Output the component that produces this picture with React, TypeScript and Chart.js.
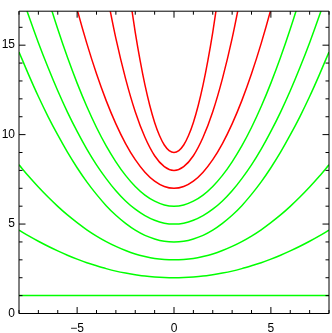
import { useEffect, useRef } from 'react';
import { Chart, registerables } from 'chart.js';

Chart.register(...registerables);

// Axis ranges and tick values
const X_MIN = -8;
const X_MAX = 8;
const Y_MIN = 0;
const Y_MAX = 16.9;
const X_MAJOR_STEP = 5;
const Y_MAJOR_STEP = 5;
const X_MINOR = [-8, -7, -6, -5, -4, -3, -2, -1, 0, 1, 2, 3, 4, 5, 6, 7, 8];
const Y_MINOR = [0, 1, 2, 3, 4, 5, 6, 7, 8, 9, 10, 11, 12, 13, 14, 15, 16];

// Sample positions
const xFull = [-8, -7.5, -7, -6.5, -6, -5.5, -5, -4.5, -4, -3.5, -3, -2.5, -2, -1.5, -1, -0.5, 0, 0.5, 1, 1.5, 2, 2.5, 3, 3.5, 4, 4.5, 5, 5.5, 6, 6.5, 7, 7.5, 8];
const xLevel1 = [-8, 8];
const xLevel6 = [-7, -6.5, -6, -5.5, -5, -4.5, -4, -3.5, -3, -2.5, -2, -1.5, -1, -0.5, 0, 0.5, 1, 1.5, 2, 2.5, 3, 3.5, 4, 4.5, 5, 5.5, 6, 6.5, 7];
const xLevel7 = [-5.5, -5, -4.5, -4, -3.5, -3, -2.5, -2, -1.5, -1, -0.5, 0, 0.5, 1, 1.5, 2, 2.5, 3, 3.5, 4, 4.5, 5, 5.5];
const xLevel8 = [-3.5, -3, -2.5, -2, -1.5, -1, -0.5, 0, 0.5, 1, 1.5, 2, 2.5, 3, 3.5];
const xLevel9 = [-2.5, -2.25, -2, -1.75, -1.5, -1.25, -1, -0.75, -0.5, -0.25, 0, 0.25, 0.5, 0.75, 1, 1.25, 1.5, 1.75, 2, 2.25, 2.5];

// Curve values (green levels 1-6, red levels 7-9)
const level1 = [1, 1];
const level2 = [4.66, 4.34, 4.04, 3.76, 3.5, 3.26, 3.04, 2.84, 2.67, 2.51, 2.37, 2.26, 2.17, 2.09, 2.04, 2.01, 2, 2.01, 2.04, 2.09, 2.17, 2.26, 2.37, 2.51, 2.67, 2.84, 3.04, 3.26, 3.5, 3.76, 4.04, 4.34, 4.66];
const level3 = [8.31, 7.67, 7.07, 6.51, 5.99, 5.51, 5.08, 4.68, 4.33, 4.02, 3.75, 3.52, 3.33, 3.19, 3.08, 3.02, 3, 3.02, 3.08, 3.19, 3.33, 3.52, 3.75, 4.02, 4.33, 4.68, 5.08, 5.51, 5.99, 6.51, 7.07, 7.67, 8.31];
const level4 = [14.62, 13.34, 12.13, 11.01, 9.98, 9.02, 8.15, 7.36, 6.66, 6.03, 5.49, 5.04, 4.66, 4.37, 4.17, 4.04, 4, 4.04, 4.17, 4.37, 4.66, 5.04, 5.49, 6.03, 6.66, 7.36, 8.15, 9.02, 9.98, 11.01, 12.13, 13.34, 14.62];
const level5 = [18.25, 16.64, 15.14, 13.75, 12.45, 11.26, 10.18, 9.19, 8.31, 7.54, 6.86, 6.29, 5.83, 5.47, 5.21, 5.05, 5, 5.05, 5.21, 5.47, 5.83, 6.29, 6.86, 7.54, 8.31, 9.19, 10.18, 11.26, 12.45, 13.75, 15.14, 16.64, 18.25];
const level6 = [19.48, 17.62, 15.9, 14.32, 12.88, 11.57, 10.4, 9.37, 8.48, 7.72, 7.1, 6.62, 6.28, 6.07, 6, 6.07, 6.28, 6.62, 7.1, 7.72, 8.48, 9.37, 10.4, 11.57, 12.88, 14.32, 15.9, 17.62, 19.48];
const level7 = [19.1, 17.0, 15.1, 13.4, 11.9, 10.6, 9.5, 8.6, 7.9, 7.4, 7.1, 7, 7.1, 7.4, 7.9, 8.6, 9.5, 10.6, 11.9, 13.4, 15.1, 17.0, 19.1];
const level8 = [18.05, 15.38, 13.13, 11.28, 9.85, 8.82, 8.21, 8, 8.21, 8.82, 9.85, 11.28, 13.13, 15.38, 18.05];
const level9 = [19.5, 17.51, 15.72, 14.15, 12.78, 11.63, 10.68, 9.95, 9.42, 9.11, 9, 9.11, 9.42, 9.95, 10.68, 11.63, 12.78, 14.15, 15.72, 17.51, 19.5];

const GREEN = '#00ff00';
const RED = '#ff0000';

const seriesDefs: { xs: number[]; ys: number[]; color: string }[] = [
  { xs: xLevel1, ys: level1, color: GREEN },
  { xs: xFull, ys: level2, color: GREEN },
  { xs: xFull, ys: level3, color: GREEN },
  { xs: xFull, ys: level4, color: GREEN },
  { xs: xFull, ys: level5, color: GREEN },
  { xs: xLevel6, ys: level6, color: GREEN },
  { xs: xLevel7, ys: level7, color: RED },
  { xs: xLevel8, ys: level8, color: RED },
  { xs: xLevel9, ys: level9, color: RED },
];

const FONT = { family: '"Liberation Sans", Arial, Helvetica, sans-serif', size: 12 };

const fmt = (v: number) => (v < 0 ? '\u2212' + Math.abs(v) : String(v));

const framePlugin = {
  id: 'idlFrame',
  afterDraw(chart: any) {
    const { ctx, chartArea, scales } = chart;
    const { left, right, top, bottom } = chartArea;
    ctx.save();
    ctx.strokeStyle = '#000000';
    ctx.lineWidth = 1;
    ctx.beginPath();
    ctx.rect(left, top, right - left, bottom - top);
    ctx.stroke();
    ctx.beginPath();
    for (const v of X_MINOR) {
      const px = scales.x.getPixelForValue(v);
      const len = v % X_MAJOR_STEP === 0 ? 6.5 : 3.5;
      ctx.moveTo(px, bottom);
      ctx.lineTo(px, bottom - len);
      ctx.moveTo(px, top);
      ctx.lineTo(px, top + len);
    }
    for (const v of Y_MINOR) {
      const py = scales.y.getPixelForValue(v);
      const len = v % Y_MAJOR_STEP === 0 ? 6.5 : 3.5;
      ctx.moveTo(left, py);
      ctx.lineTo(left + len, py);
      ctx.moveTo(right, py);
      ctx.lineTo(right - len, py);
    }
    ctx.stroke();
    ctx.restore();
  },
};

export default function App() {
  const ref = useRef<HTMLCanvasElement | null>(null);

  useEffect(() => {
    if (!ref.current) return;
    const datasets = seriesDefs.map((s) => ({
      data: s.xs.map((x, i) => ({ x, y: s.ys[i] })),
      borderColor: s.color,
      backgroundColor: s.color,
      borderWidth: 1.5,
      pointRadius: 0,
      cubicInterpolationMode: 'monotone' as const,
      fill: false,
    }));
    const chart = new Chart(ref.current, {
      type: 'line',
      data: { datasets },
      plugins: [framePlugin],
      options: {
        animation: false,
        responsive: false,
        devicePixelRatio: 1,
        layout: { padding: { top: 4, right: 3, left: 0, bottom: 0 } },
        plugins: { legend: { display: false }, tooltip: { enabled: false } },
        scales: {
          x: {
            type: 'linear',
            min: X_MIN,
            max: X_MAX,
            grid: { display: false, drawTicks: false },
            border: { display: false },
            ticks: {
              stepSize: X_MAJOR_STEP,
              includeBounds: false,
              color: '#000',
              font: FONT,
              padding: 8,
              maxRotation: 0,
              callback: (v: any) => fmt(Number(v)),
            },
            afterFit: (s: any) => {
              s.height = 19.5;
            },
          },
          y: {
            type: 'linear',
            min: Y_MIN,
            max: Y_MAX,
            grid: { display: false, drawTicks: false },
            border: { display: false },
            ticks: {
              stepSize: Y_MAJOR_STEP,
              includeBounds: false,
              color: '#000',
              font: FONT,
              padding: 4,
              callback: (v: any) => fmt(Number(v)),
            },
            afterFit: (s: any) => {
              s.width = 19;
            },
          },
        },
      },
    });
    return () => chart.destroy();
  }, []);

  return (
    <div style={{ position: 'absolute', left: 0, top: 0, width: 332, height: 333, background: '#fff' }}>
      <canvas ref={ref} width={332} height={333} style={{ width: 332, height: 333, display: 'block' }} />
    </div>
  );
}
